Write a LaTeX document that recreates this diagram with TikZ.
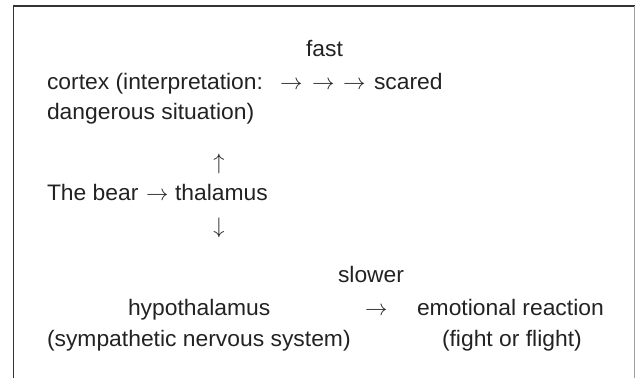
\documentclass[tikz,border=0pt]{standalone}
\usepackage{fix-cm}
\usepackage{fontspec}
\setmainfont{Liberation Sans}[FakeStretch=1.02]
\definecolor{ink}{HTML}{222222}
\definecolor{frameA}{HTML}{333333}
\definecolor{frameB}{HTML}{A0A0A0}
\tikzset{
  txt/.style={anchor=base west, inner sep=0pt, outer sep=0pt, text=ink,
    font=\fontsize{22.5}{26}\selectfont},
  glyph/.style={anchor=base, inner sep=0pt, outer sep=0pt, text=ink,
    font=\fontsize{22.5}{26}\selectfont},
}
\begin{document}
\begin{tikzpicture}[x=1bp,y=-1bp]
\useasboundingbox (0,0) rectangle (636,378);
\draw[frameA, line width=1.6bp] (13.5,378) -- (13.5,6.2) -- (634.5,6.2);
\draw[frameB, line width=1bp] (634.5,6.2) -- (634.5,378);
\node[txt] (fast) at (306,56) {fast};
\node[txt] (cortex) at (47,89) {cortex (interpretation:};
\node[txt] (a1) at (280,89) {$\rightarrow$};
\node[txt] (a2) at (312,89) {$\rightarrow$};
\node[txt] (a3) at (343,89) {$\rightarrow$};
\node[txt] (scared) at (374,89) {scared};
\node[txt] (danger) at (47,119) {dangerous situation)};
\node[glyph] (up) at (219,169) {$\uparrow$};
\node[txt] (bear) at (47,200) {The bear};
\node[txt] (a4) at (146,200) {$\rightarrow$};
\node[txt] (thal) at (175,200) {thalamus};
\node[glyph] (down) at (219,233) {$\downarrow$};
\node[txt] (slower) at (338,282) {slower};
\node[txt] (hypo) at (128,315) {hypothalamus};
\node[txt] (a5) at (365,315) {$\rightarrow$};
\node[txt] (emo) at (417,315) {emotional reaction};
\node[txt] (symp) at (47,346) {(sympathetic nervous system)};
\node[txt] (fight) at (442,346) {(fight or flight)};
\end{tikzpicture}
\end{document}
